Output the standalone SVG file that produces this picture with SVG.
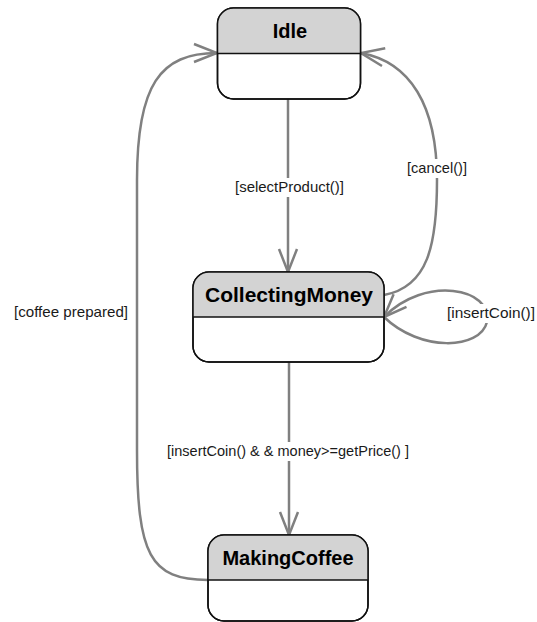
<svg xmlns="http://www.w3.org/2000/svg" width="537" height="622" viewBox="0 0 537 622">
<defs>
<style>
.box{fill:#ffffff;stroke:#111111;stroke-width:1.5}
.head{fill:#d3d3d3}
.div{stroke:#111111;stroke-width:1.5}
.title{font-family:"Liberation Sans",Arial,sans-serif;font-weight:bold;font-size:20px;fill:#000000;text-anchor:middle}
.edge{fill:none;stroke:#808080;stroke-width:2.5}
.lbl{font-family:"Liberation Sans",Arial,sans-serif;font-size:15px;fill:#1a1a1a}
.bg{fill:#ffffff}
</style>
<marker id="arr" markerUnits="userSpaceOnUse" viewBox="-26 -12 28 24" markerWidth="28" markerHeight="24" refX="0" refY="0" orient="auto">
<path d="M-23,-9 L0,0 L-23,9" fill="none" stroke="#808080" stroke-width="2.5"/>
</marker>
<clipPath id="c1"><rect x="217.5" y="8" width="143" height="91" rx="16"/></clipPath>
<clipPath id="c2"><rect x="193" y="272" width="191" height="90" rx="16"/></clipPath>
<clipPath id="c3"><rect x="208" y="535" width="160" height="86" rx="16"/></clipPath>
</defs>
<g id="connectors">
<path class="edge" d="M288,99 L288,272" marker-end="url(#arr)"/>
<path class="edge" d="M289,362 L289,535" marker-end="url(#arr)"/>
<path class="edge" d="M384,295 C428,287 437,245 437,180 C437,105 410,62 361,53" marker-end="url(#arr)"/>
<path class="edge" d="M384,317 C420,352 480,350 487,322 C493,288 425,275 384,317" marker-end="url(#arr)"/>
<path class="edge" d="M208,580 C150,580 137,555 137,450 L137,180 C137,85 160,53 217,53" marker-end="url(#arr)"/>
<rect class="bg" x="233" y="178" width="113" height="19"/>
<text class="lbl" x="235" y="192" textLength="109" lengthAdjust="spacingAndGlyphs">[selectProduct()]</text>
<rect class="bg" x="165" y="442" width="246" height="19"/>
<text class="lbl" x="167" y="456" textLength="242" lengthAdjust="spacingAndGlyphs">[insertCoin() &amp; &amp; money&gt;=getPrice() ]</text>
<rect class="bg" x="405" y="159" width="64" height="19"/>
<text class="lbl" x="407" y="173" textLength="60" lengthAdjust="spacingAndGlyphs">[cancel()]</text>
<rect class="bg" x="445" y="304" width="91" height="19"/>
<text class="lbl" x="447" y="318" textLength="88" lengthAdjust="spacingAndGlyphs">[insertCoin()]</text>
<text class="lbl" x="14" y="317" textLength="114" lengthAdjust="spacingAndGlyphs">[coffee prepared]</text>
</g>
<g id="Idle">
<rect class="box" x="217.5" y="8" width="143" height="91" rx="16"/>
<rect class="head" x="217.5" y="8" width="143" height="45.5" clip-path="url(#c1)"/>
<rect x="217.5" y="8" width="143" height="91" rx="16" fill="none" stroke="#111111" stroke-width="1.5"/>
<line class="div" x1="217.5" y1="53.5" x2="360.5" y2="53.5"/>
<text class="title" x="290" y="38">Idle</text>
</g>
<g id="CollectingMoney">
<rect class="box" x="193" y="272" width="191" height="90" rx="16"/>
<rect class="head" x="193" y="272" width="191" height="45" clip-path="url(#c2)"/>
<rect x="193" y="272" width="191" height="90" rx="16" fill="none" stroke="#111111" stroke-width="1.5"/>
<line class="div" x1="193" y1="317" x2="384" y2="317"/>
<text class="title" x="289" y="302" textLength="168" lengthAdjust="spacingAndGlyphs">CollectingMoney</text>
</g>
<g id="MakingCoffee">
<rect class="box" x="208" y="535" width="160" height="86" rx="16"/>
<rect class="head" x="208" y="535" width="160" height="45" clip-path="url(#c3)"/>
<rect x="208" y="535" width="160" height="86" rx="16" fill="none" stroke="#111111" stroke-width="1.5"/>
<line class="div" x1="208" y1="580" x2="368" y2="580"/>
<text class="title" x="288" y="565">MakingCoffee</text>
</g>
</svg>
